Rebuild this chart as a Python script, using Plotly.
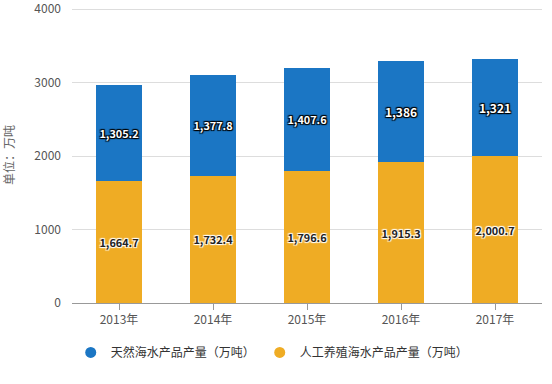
import plotly.graph_objects as go

years = ["2013年", "2014年", "2015年", "2016年", "2017年"]
farmed = [1664.7, 1732.4, 1796.6, 1915.3, 2000.7]
wild = [1305.2, 1377.8, 1407.6, 1386, 1321]
name_wild = "天然海水产品产量（万吨）"
name_farmed = "人工养殖海水产品产量（万吨）"

blue = "#1B76C4"
orange = "#EFAC24"
font = "Noto Sans CJK SC, Microsoft YaHei, sans-serif"

fig = go.Figure()
fig.add_trace(go.Bar(
    x=years, y=farmed, name=name_farmed, marker=dict(color=orange, line=dict(width=0)),
    texttemplate="%{y:,}", textposition="inside", insidetextanchor="middle", textangle=0,
    textfont=dict(color="#222222", size=12, family=font, weight="bold",
                  shadow="1px 1px 1px #fff, -1px -1px 1px #fff, 1px -1px 1px #fff, -1px 1px 1px #fff"),
    showlegend=False, hoverinfo="skip"))
fig.add_trace(go.Bar(
    x=years, y=wild, name=name_wild, marker=dict(color=blue, line=dict(width=0)),
    texttemplate="%{y:,}", textposition="inside", insidetextanchor="middle", textangle=0,
    textfont=dict(color="#ffffff", size=12, family=font, weight="bold",
                  shadow="1px 1px 1px #000, -1px -1px 1px #000, 1px -1px 1px #000, -1px 1px 1px #000"),
    showlegend=False, hoverinfo="skip"))
# legend entries with circle markers
fig.add_trace(go.Scatter(x=[None], y=[None], mode="markers", name=name_wild,
                         marker=dict(color=blue, size=11, symbol="circle")))
fig.add_trace(go.Scatter(x=[None], y=[None], mode="markers", name=name_farmed,
                         marker=dict(color=orange, size=11, symbol="circle")))

fig.update_layout(
    width=552, height=384,
    margin=dict(l=72, r=10, t=7, b=81, autoexpand=False),
    barmode="stack", bargap=0.52,
    plot_bgcolor="white", paper_bgcolor="white",
    font=dict(family=font, size=12, color="#555555"),
    legend=dict(orientation="h", x=0.426, xanchor="center", y=-0.167, yanchor="middle",
                traceorder="normal",
                font=dict(size=12, color="#333333"), itemwidth=30, tracegroupgap=0),
    xaxis=dict(showline=True, linecolor="#999999", linewidth=1, ticks="outside",
               tickcolor="#999999", ticklen=6, tickfont=dict(size=12, color="#555555"),
               showgrid=False, automargin=False),
    yaxis=dict(range=[0, 4030], tickvals=[0, 1000, 2000, 3000, 4000], showgrid=True,
               gridcolor="#DDDDDD", gridwidth=1, zeroline=False, ticks="",
               ticklabeloverflow="allow",
               ticklabelstandoff=10, tickfont=dict(size=12, color="#555555"), automargin=False,
               title=dict(text="单位：万吨", font=dict(size=12, color="#666666"), standoff=17)),
)
fig.write_html("out.html", config={"displayModeBar": False},
               post_script="document.body.style.margin='0';")
